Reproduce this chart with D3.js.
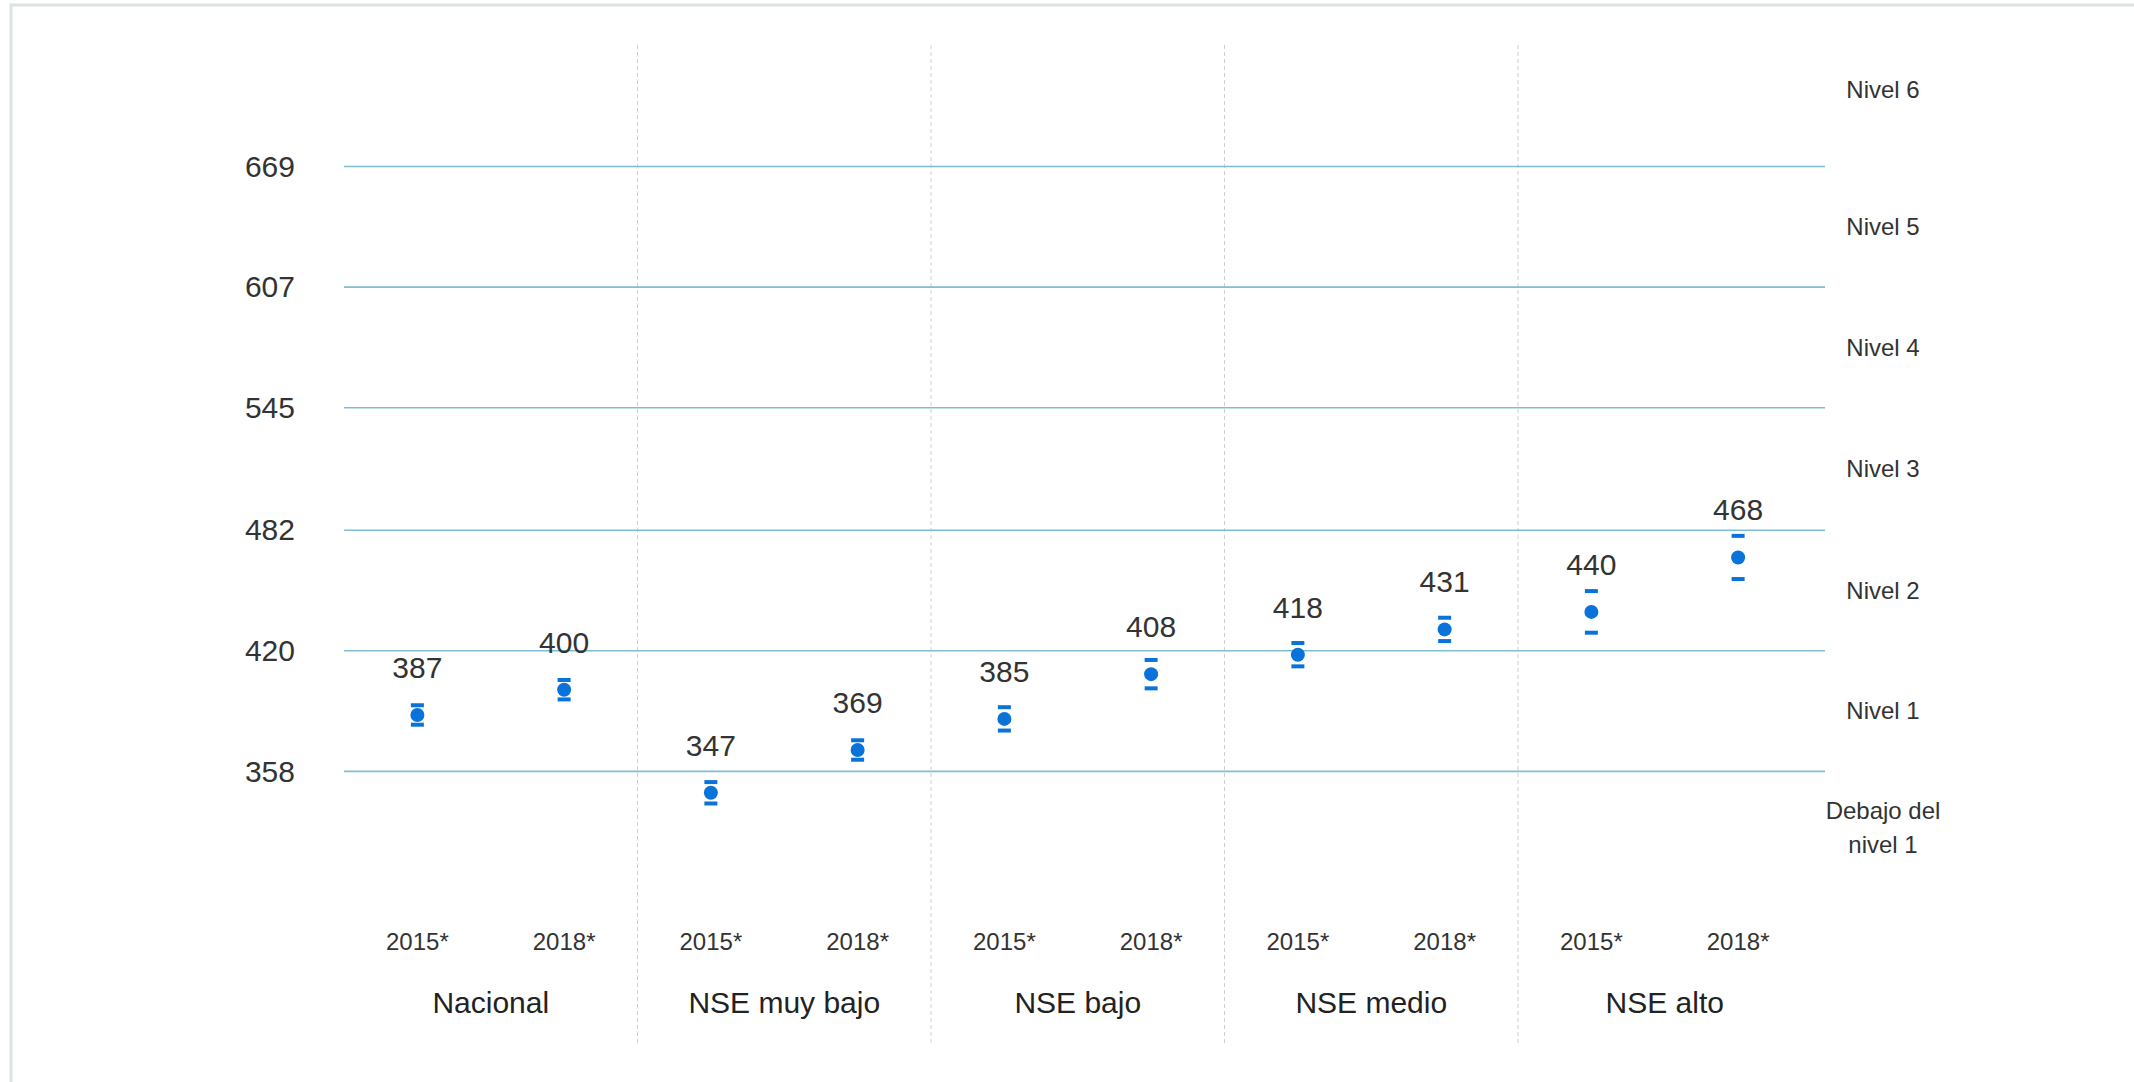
<!DOCTYPE html>
<html lang="es">
<head>
<meta charset="utf-8">
<title>Puntaje promedio por NSE, 2015 y 2018</title>
<script src="https://cdn.jsdelivr.net/npm/d3@7/dist/d3.min.js"></script>
<style>
  html, body { margin: 0; padding: 0; background: #ffffff; }
  svg { display: block; font-family: "Liberation Sans", Arial, Helvetica, sans-serif; }
</style>
</head>
<body>
<svg id="chart" width="2134" height="1082"></svg>
<script>
// Groups and survey years
const groups = ["Nacional", "NSE muy bajo", "NSE bajo", "NSE medio", "NSE alto"];
const years = ["2015*", "2018*"];

// Mean scores per group
const scores2015 = [387, 347, 385, 418, 440];
const scores2018 = [400, 369, 408, 431, 468];

// Half-width of the confidence interval (score points)
const ci2015 = [5, 5.5, 6, 6, 10.7];
const ci2018 = [5, 5, 7.3, 6, 11.1];

// Cut scores between proficiency levels (axis ticks)
const cutScores = [358, 420, 482, 545, 607, 669];
// Bands between cut scores, bottom to top
const levelLabels = [["Debajo del", "nivel 1"], ["Nivel 1"], ["Nivel 2"], ["Nivel 3"], ["Nivel 4"], ["Nivel 5"], ["Nivel 6"]];
const scoreRange = [300, 748];

const svg = d3.select("#chart");
const W = 2134, H = 1082;
const plot = { left: 344, right: 1811.5, gridRight: 1825, top: 45, bottom: 1045 };

svg.append("rect").attr("width", W).attr("height", H).attr("fill", "#ffffff");

// Light frame along the top and left edges
svg.append("path")
  .attr("d", `M11,${H + 5} V5 H${W + 5}`)
  .attr("fill", "none")
  .attr("stroke", "#dde3e3")
  .attr("stroke-width", 3);

const y = d3.scaleLinear().domain(scoreRange).range([884.2, 12.85]);
const x = d3.scaleBand().domain(groups).range([plot.left, plot.right]);
const xYear = d3.scalePoint().domain(years).range([0, x.bandwidth()]).padding(0.5);

// Dashed separators between groups
svg.append("g")
  .selectAll("line")
  .data(groups.slice(1))
  .join("line")
  .attr("x1", d => x(d)).attr("x2", d => x(d))
  .attr("y1", plot.top).attr("y2", plot.bottom)
  .attr("stroke", "#cfcfcf")
  .attr("stroke-width", 1)
  .attr("stroke-dasharray", "4,3");

// Horizontal level boundaries
svg.append("g")
  .selectAll("line")
  .data(cutScores)
  .join("line")
  .attr("x1", plot.left).attr("x2", plot.gridRight)
  .attr("y1", d => y(d)).attr("y2", d => y(d))
  .attr("stroke", "#7fbdd2")
  .attr("stroke-width", 1.6);

// Left axis with the cut score values
const yAxis = svg.append("g")
  .attr("transform", `translate(${plot.left},0)`)
  .call(d3.axisLeft(y).tickValues(cutScores).tickSize(0).tickPadding(49).tickFormat(d3.format("d")));
yAxis.select(".domain").remove();
yAxis.selectAll("text")
  .attr("font-size", 30)
  .attr("font-family", "\"Liberation Sans\", Arial, sans-serif")
  .attr("fill", "#333333");

// Level names, centred in each band
const bands = [scoreRange[0], ...cutScores, scoreRange[1]];
const levelG = svg.append("g");
levelLabels.forEach((lines, i) => {
  const mid = (y(bands[i]) + y(bands[i + 1])) / 2;
  const t = levelG.append("text")
    .attr("x", 1883)
    .attr("y", mid)
    .attr("text-anchor", "middle")
    .attr("font-size", 24)
    .attr("fill", "#333333");
  const lh = 34;
  lines.forEach((ln, j) => {
    t.append("tspan")
      .attr("x", 1883)
      .attr("y", mid + (j - (lines.length - 1) / 2) * lh)
      .attr("dy", "0.35em")
      .text(ln);
  });
});

// Points with confidence caps
const rows = [];
groups.forEach((g, i) => {
  rows.push({ group: g, year: years[0], value: scores2015[i], ci: ci2015[i] });
  rows.push({ group: g, year: years[1], value: scores2018[i], ci: ci2018[i] });
});
const cx = d => x(d.group) + xYear(d.year);
const blue = "#0a73d9";

const marks = svg.append("g");
marks.selectAll("rect.cap-hi")
  .data(rows).join("rect")
  .attr("class", "cap-hi")
  .attr("x", d => cx(d) - 6.5).attr("y", d => y(d.value + d.ci) - 2)
  .attr("width", 13).attr("height", 4)
  .attr("fill", blue);
marks.selectAll("rect.cap-lo")
  .data(rows).join("rect")
  .attr("class", "cap-lo")
  .attr("x", d => cx(d) - 6.5).attr("y", d => y(d.value - d.ci) - 2)
  .attr("width", 13).attr("height", 4)
  .attr("fill", blue);
marks.selectAll("circle")
  .data(rows).join("circle")
  .attr("cx", cx).attr("cy", d => y(d.value))
  .attr("r", 7)
  .attr("fill", blue);

// Value labels above each point
svg.append("g")
  .selectAll("text")
  .data(rows).join("text")
  .attr("x", cx)
  .attr("y", d => y(d.value) - 37)
  .attr("text-anchor", "middle")
  .attr("font-size", 30)
  .attr("fill", "#333333")
  .text(d => d.value);

// Year labels
svg.append("g")
  .selectAll("text")
  .data(rows).join("text")
  .attr("x", cx)
  .attr("y", 942)
  .attr("dy", "0.35em")
  .attr("text-anchor", "middle")
  .attr("font-size", 24)
  .attr("fill", "#333333")
  .text(d => d.year);

// Group labels
svg.append("g")
  .selectAll("text")
  .data(groups).join("text")
  .attr("x", d => x(d) + x.bandwidth() / 2)
  .attr("y", 1002)
  .attr("dy", "0.35em")
  .attr("text-anchor", "middle")
  .attr("font-size", 30)
  .attr("fill", "#222222")
  .text(d => d);
</script>
</body>
</html>
